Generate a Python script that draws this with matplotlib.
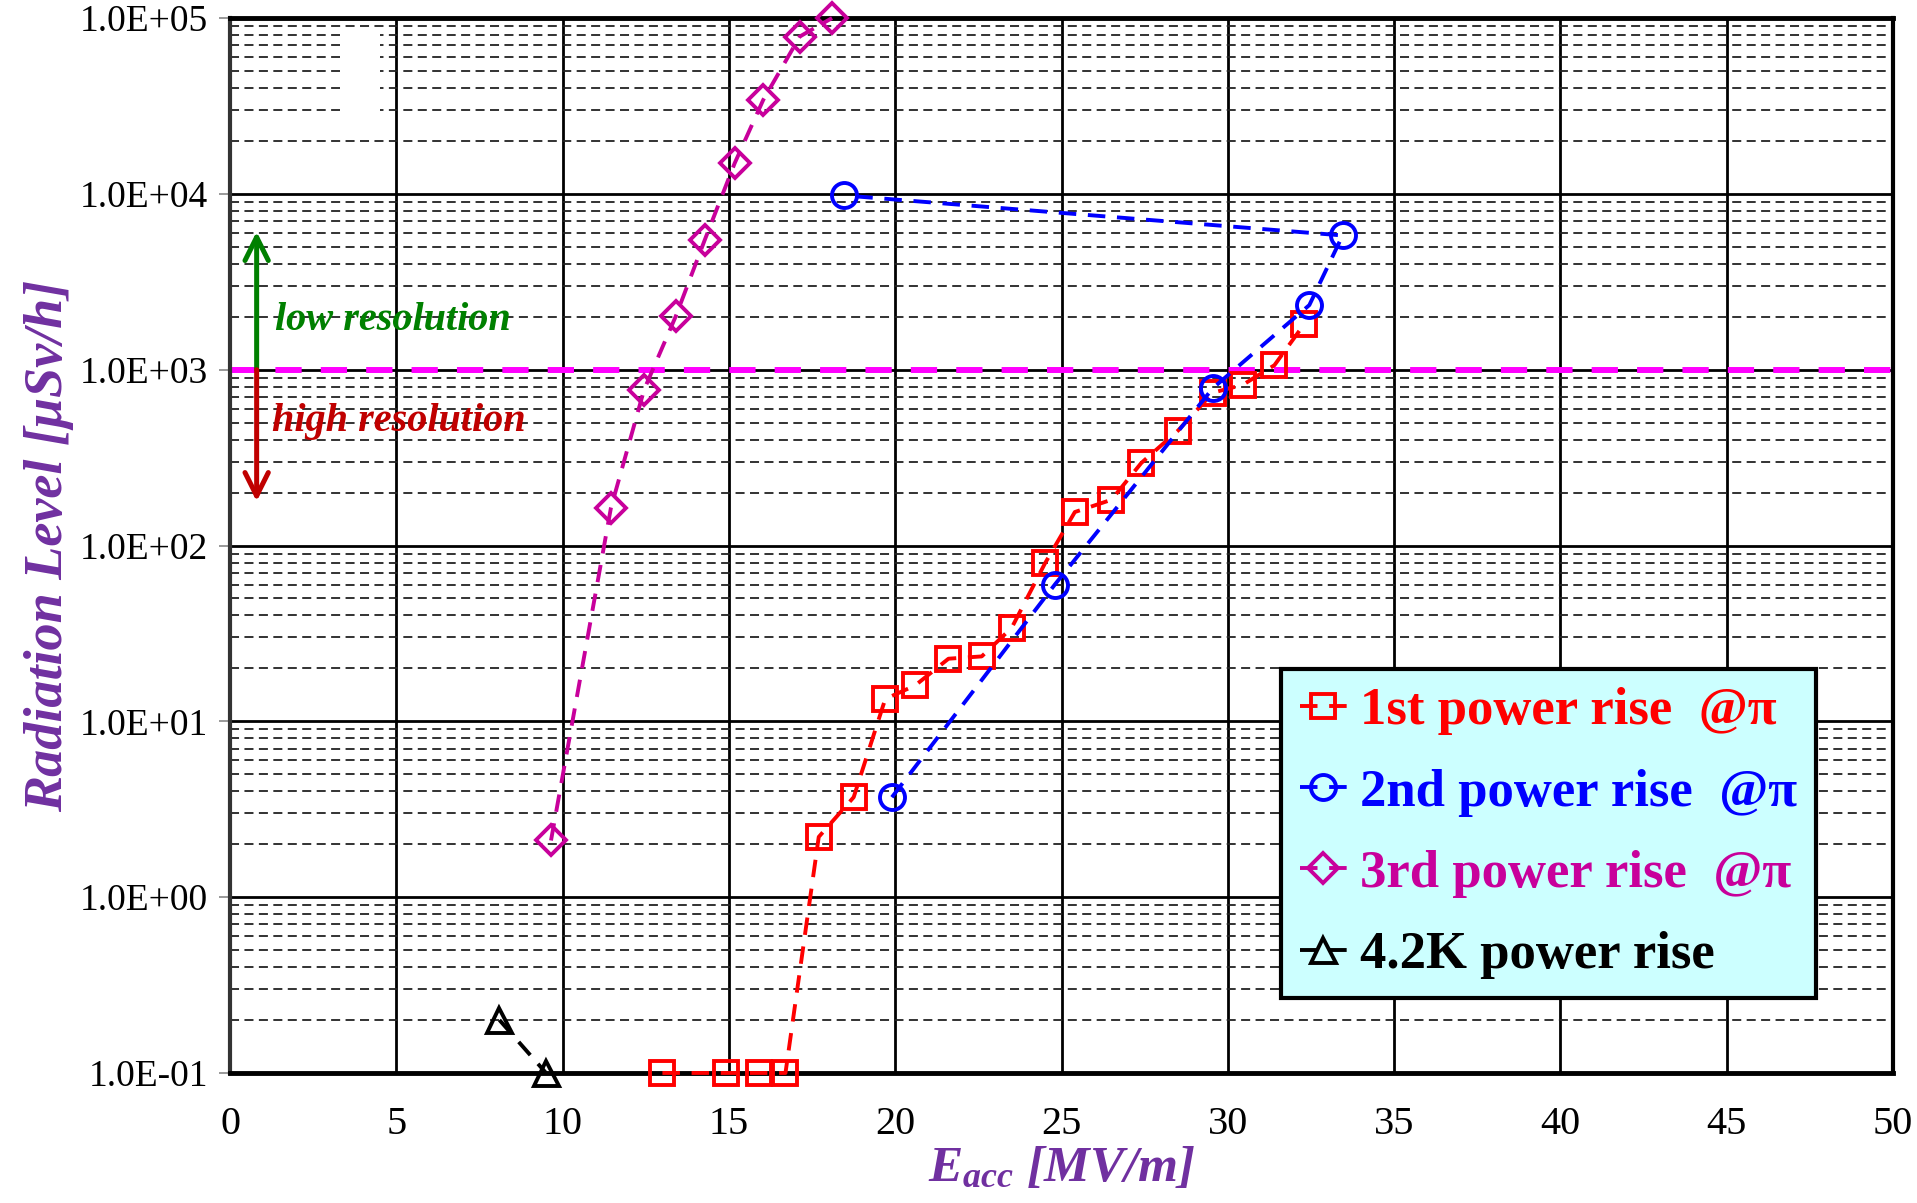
import matplotlib
matplotlib.use("Agg")
import matplotlib.pyplot as plt
from matplotlib.ticker import FixedLocator, LogLocator, NullFormatter

plt.rcParams['font.family'] = ['Liberation Serif', 'DejaVu Serif']
plt.rcParams['mathtext.fontset'] = 'custom'
plt.rcParams['mathtext.rm'] = 'Liberation Serif:bold'
plt.rcParams['mathtext.it'] = 'Liberation Serif:italic:bold'
plt.rcParams['mathtext.bf'] = 'Liberation Serif:bold'

# ---- data -------------------------------------------------------------
# 1st power rise @pi
e1 = [13.0, 14.9, 15.9, 16.7, 17.7, 18.75, 19.7, 20.6, 21.6, 22.6, 23.5,
      24.5, 25.4, 26.5, 27.4, 28.5, 29.55, 30.45, 31.4, 32.3]
r1 = [0.1, 0.1, 0.1, 0.1, 2.2, 3.7, 13.4, 16.0, 22.7, 23.4, 34.0,
      79.0, 155.0, 182.0, 295.0, 450.0, 740.0, 820.0, 1060.0, 1820.0]
# 2nd power rise @pi
e2 = [19.9, 24.8, 29.55, 32.45, 33.45, 18.45]
r2 = [3.7, 60.0, 785.0, 2330.0, 5800.0, 9800.0]
# 3rd power rise @pi
e3 = [9.65, 11.45, 12.45, 13.4, 14.27, 15.17, 16.03, 17.13, 18.1]
r3 = [2.1, 163.0, 770.0, 2010.0, 5450.0, 14900.0, 34200.0, 78500.0, 100000.0]
# 4.2K power rise
e4 = [8.1, 9.5]
r4 = [0.2, 0.1]

threshold = 1.0e3  # boundary between high and low resolution ranges

labels = ["1st power rise  @\u03c0", "2nd power rise  @\u03c0",
          "3rd power rise  @\u03c0", "4.2K power rise"]
colors = ["#FF0000", "#0000FF", "#C8009B", "#000000"]
markers = ["s", "o", "D", "^"]
msizes = [17, 18, 15, 18]

x_ticks = [0, 5, 10, 15, 20, 25, 30, 35, 40, 45, 50]
y_ticks = [1e-1, 1e0, 1e1, 1e2, 1e3, 1e4, 1e5]
y_tick_labels = ["1.0E-01", "1.0E+00", "1.0E+01", "1.0E+02",
                 "1.0E+03", "1.0E+04", "1.0E+05"]

purple = "#7030A0"

# ---- figure -----------------------------------------------------------
fig = plt.figure(figsize=(19.17, 12.03), dpi=100)
ax = fig.add_axes([0.1200, 0.1081, 0.8675, 0.8769])
ax.set_yscale("log")
ax.set_xlim(0, 50)
ax.set_ylim(1e-1, 1e5)

# grid: solid majors, dashed minor decades
ax.set_xticks(x_ticks)
ax.set_xticklabels([str(t) for t in x_ticks])
ax.yaxis.set_major_locator(FixedLocator(y_ticks))
ax.set_yticklabels(y_tick_labels)
ax.yaxis.set_minor_locator(LogLocator(base=10, subs=range(2, 10), numticks=20))
ax.yaxis.set_minor_formatter(NullFormatter())
ax.grid(which="major", axis="both", color="black", linewidth=2.0, linestyle="-")
ax.grid(which="minor", axis="y", color="#222222", linewidth=1.3,
        linestyle=(0, (5, 3)))
ax.set_axisbelow(True)

ax.tick_params(axis="x", which="major", length=0, pad=24, labelsize=29)
ax.tick_params(axis="y", which="major", length=8, width=1.2, color="#888888",
               pad=8, labelsize=27)
ax.tick_params(axis="y", which="minor", length=0)

for side in ["top", "bottom"]:
    ax.spines[side].set_linewidth(3.5)
ax.spines["left"].set_linewidth(3.0)
ax.spines["left"].set_color("#333333")
ax.spines["right"].set_linewidth(3.0)

# blank note box in the upper-left corner
ax.add_patch(plt.Rectangle((0.066, 0.905), 0.024, 0.081, transform=ax.transAxes,
                           facecolor="white", edgecolor="none", zorder=1.5))

# resolution boundary line
ax.plot([0, 50.4], [threshold, threshold], color="#FF00FF", linewidth=4.3,
        linestyle=(0, (4.4, 3.2)), clip_on=False, zorder=2)

# series
series = [(e1, r1), (e2, r2), (e3, r3), (e4, r4)]
for (xs, ys), lab, col, mk, ms in zip(series, labels, colors, markers, msizes):
    ax.plot(xs, ys, color=col, linestyle=(0, (4.5, 3.0)), linewidth=2.8,
            marker=mk, markersize=ms, markerfacecolor="none",
            markeredgecolor=col, markeredgewidth=2.8, label=lab,
            clip_on=False, zorder=4)

# resolution arrows and notes
ax.annotate("", xy=(0.8, 6100), xytext=(0.8, threshold),
            arrowprops=dict(arrowstyle="->", color="#008000", lw=3.6,
                            mutation_scale=42, shrinkA=0, shrinkB=0), zorder=5)
ax.annotate("", xy=(0.8, 178), xytext=(0.8, threshold),
            arrowprops=dict(arrowstyle="->", color="#C00000", lw=3.6,
                            mutation_scale=42, shrinkA=0, shrinkB=0), zorder=5)
ax.text(1.35, 1900, "low resolution", color="#008000", fontsize=29,
        fontstyle="italic", fontweight="bold", va="center", ha="left", zorder=5)
ax.text(1.25, 505, "high resolution", color="#C00000", fontsize=29,
        fontstyle="italic", fontweight="bold", va="center", ha="left", zorder=5)

# axis titles
ax.set_xlabel("$E_{acc}$ [MV/m]", color=purple, fontsize=37,
              fontstyle="italic", fontweight="bold", labelpad=2)
ax.set_ylabel("Radiation Level [\u03bcSv/h]", color=purple, fontsize=39,
              fontstyle="italic", fontweight="bold", labelpad=4)

leg = ax.legend(loc="upper left", bbox_to_anchor=(0.632, 0.383),
                frameon=True, fancybox=False,
                facecolor="#CCFFFF", edgecolor="black", framealpha=1.0,
                labelcolor="linecolor", handlelength=0.9, handletextpad=0.25,
                labelspacing=0.63, borderpad=0.35, borderaxespad=0,
                prop={"weight": "bold", "size": 38})
leg.get_frame().set_linewidth(3.0)
leg.set_zorder(6)

fig.savefig("out.png", dpi=100)
